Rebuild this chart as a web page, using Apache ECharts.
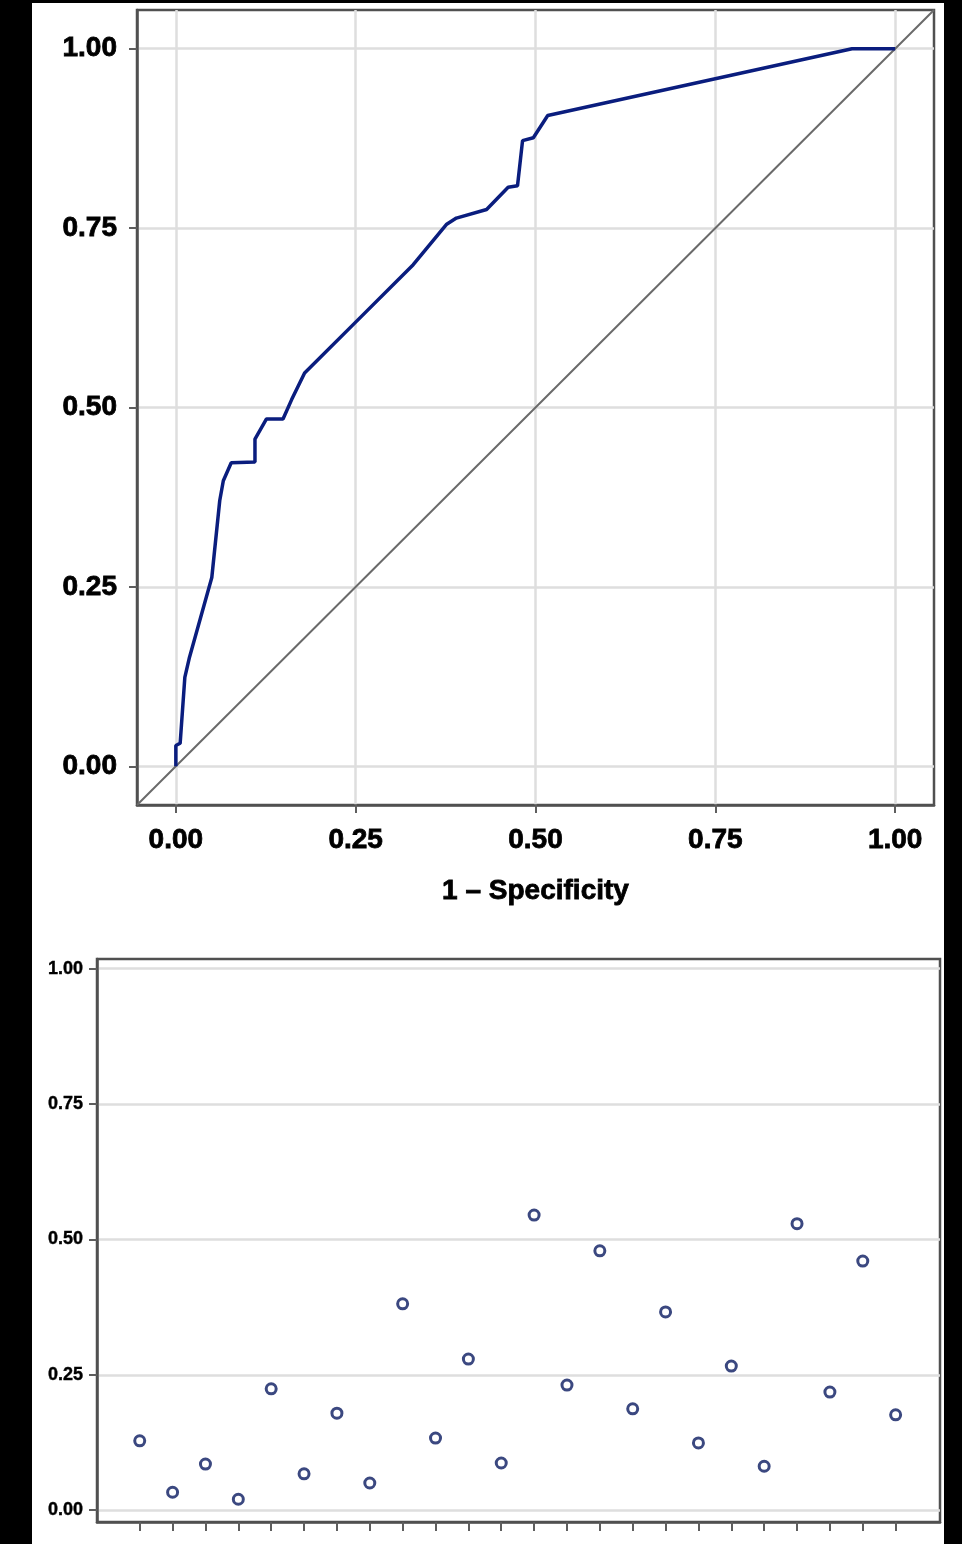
<!DOCTYPE html>
<html><head><meta charset="utf-8">
<script src="https://cdn.jsdelivr.net/npm/echarts@6/dist/echarts.min.js"></script>
<style>
html,body{margin:0;padding:0;background:#000;}
#wrap{position:relative;width:962px;height:1544px;background:#000;overflow:hidden;}
#paper{position:absolute;left:32px;top:3px;width:912px;height:1541px;background:#fff;}
#chart{position:absolute;left:0;top:0;width:962px;height:1544px;}
</style></head><body>
<div id="wrap"><div id="paper"></div><div id="chart"></div></div>
<script>
// ROC curve (1 - specificity, sensitivity)
const rocFpr = [0, 0, 0.006, 0.0125, 0.019, 0.05, 0.061, 0.066, 0.077, 0.110, 0.110, 0.126, 0.149, 0.161, 0.179, 0.25, 0.33, 0.376, 0.390, 0.432, 0.462, 0.475, 0.482, 0.497, 0.517, 0.94, 1.0];
const rocTpr = [0, 0.029, 0.032, 0.124, 0.152, 0.263, 0.37, 0.398, 0.423, 0.424, 0.456, 0.484, 0.484, 0.511, 0.548, 0.619, 0.699, 0.755, 0.764, 0.776, 0.807, 0.809, 0.872, 0.876, 0.907, 1.0, 1.0];
// Reference diagonal spans the full axis range
const rocAxisMin = -0.054;
const rocAxisMax = 1.054;
const rocTicks = [0, 0.25, 0.5, 0.75, 1];
const rocXName = '1 \u2013 Specificity';

// Lower panel: one value per category
const catIndex = [1,2,3,4,5,6,7,8,9,10,11,12,13,14,15,16,17,18,19,20,21,22,23,24];
const probValues = [0.128, 0.033, 0.085, 0.020, 0.224, 0.067, 0.179, 0.050, 0.381, 0.133, 0.279, 0.087, 0.545, 0.231, 0.479, 0.187, 0.366, 0.124, 0.266, 0.081, 0.529, 0.218, 0.460, 0.176];
const probTicks = [0, 0.25, 0.5, 0.75, 1];

const FONT = '"Liberation Sans", Arial, sans-serif';
const gridLine = {show: true, lineStyle: {color: '#dedede', width: 2.5}};
const tickStyle = {color: '#5e5e5e', width: 2};
const fmt = v => Number(v).toFixed(2);
const bigLabel = {fontFamily: FONT, fontWeight: 'bold', fontSize: 28, color: '#000', textBorderColor: '#000', textBorderWidth: 0.8};
const smallLabel = {fontFamily: FONT, fontWeight: 'bold', fontSize: 18, color: '#000', textBorderColor: '#000', textBorderWidth: 0.4};

const chart = echarts.init(document.getElementById('chart'), null, {renderer: 'canvas'});
chart.setOption({
  backgroundColor: 'transparent',
  animation: false,
  grid: [
    {left: 137, top: 10, width: 797, height: 795, show: true, borderColor: '#505050', borderWidth: 2.5, backgroundColor: 'transparent'},
    {left: 97, top: 959, width: 843, height: 563, show: true, borderColor: '#505050', borderWidth: 2.5, backgroundColor: 'transparent'}
  ],
  xAxis: [
    {gridIndex: 0, type: 'value', min: rocAxisMin, max: rocAxisMax,
     name: rocXName, nameLocation: 'middle', nameGap: 72,
     nameTextStyle: Object.assign({}, bigLabel),
     axisLine: {show: true, onZero: false, lineStyle: {color: '#505050', width: 2.5}},
     axisTick: {show: true, length: 8, lineStyle: tickStyle, customValues: rocTicks},
     axisLabel: Object.assign({show: true, customValues: rocTicks, formatter: fmt, margin: 21}, bigLabel),
     splitLine: gridLine},
    {gridIndex: 1, type: 'value', min: -0.3, max: 25.35,
     axisLine: {show: true, onZero: false, lineStyle: {color: '#505050', width: 2.5}},
     axisTick: {show: true, length: 9, lineStyle: tickStyle, customValues: catIndex},
     axisLabel: {show: false},
     splitLine: {show: false}}
  ],
  yAxis: [
    {gridIndex: 0, type: 'value', min: rocAxisMin, max: rocAxisMax,
     axisLine: {show: true, onZero: false, lineStyle: {color: '#505050', width: 2.5}},
     axisTick: {show: true, length: 8, lineStyle: tickStyle, customValues: rocTicks},
     axisLabel: Object.assign({show: true, customValues: rocTicks, formatter: fmt, margin: 20}, bigLabel),
     splitLine: gridLine},
    {gridIndex: 1, type: 'value', min: -0.022, max: 1.018,
     axisLine: {show: true, onZero: false, lineStyle: {color: '#505050', width: 2.5}},
     axisTick: {show: true, length: 8, lineStyle: tickStyle, customValues: probTicks},
     axisLabel: Object.assign({show: true, customValues: probTicks, formatter: fmt, margin: 14}, smallLabel),
     splitLine: gridLine}
  ],
  series: [
    {type: 'line', xAxisIndex: 0, yAxisIndex: 0, showSymbol: false, symbol: 'none',
     data: [[rocAxisMin, rocAxisMin], [rocAxisMax, rocAxisMax]],
     lineStyle: {color: '#6a6a6a', width: 2}, z: 2},
    {type: 'line', xAxisIndex: 0, yAxisIndex: 0, showSymbol: false, symbol: 'none',
     data: rocFpr.map((x, i) => [x, rocTpr[i]]),
     lineStyle: {color: '#0a1d7e', width: 3.5}, z: 3},
    {type: 'scatter', xAxisIndex: 1, yAxisIndex: 1, symbol: 'circle', symbolSize: 10,
     data: catIndex.map((c, i) => [c, probValues[i]]),
     itemStyle: {color: '#fff', borderColor: '#0a1a60', borderWidth: 3}, z: 3}
  ]
});
</script>
</body></html>
